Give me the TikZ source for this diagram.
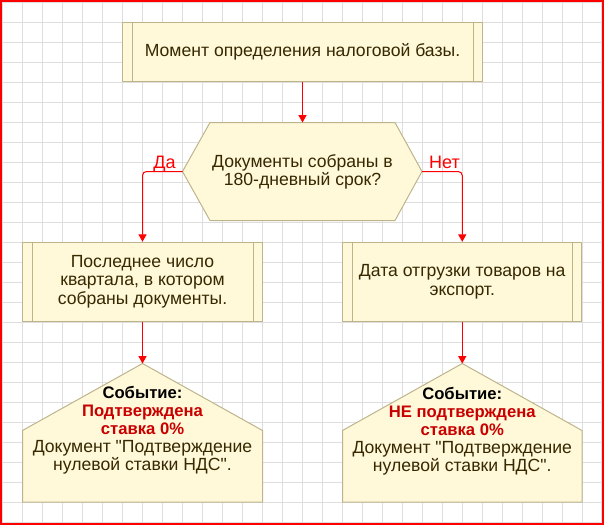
\documentclass[tikz,border=0pt]{standalone}
\usepackage{fontspec}
\setmainfont{Liberation Sans}
\newfontfamily\nomapfont{Liberation Sans}
\usetikzlibrary{arrows.meta}
\definecolor{boxfill}{RGB}{255,249,218}
\definecolor{boxline}{RGB}{190,180,140}
\definecolor{boxtext}{RGB}{55,40,0}
\definecolor{gridc}{RGB}{222,222,222}
\definecolor{evred}{RGB}{200,0,0}
\newcommand{\qq}{{\nomapfont\symbol{34}}}
\newcommand{\evbold}{\fontsize{12.5pt}{13.5pt}\selectfont\bfseries}
\tikzset{
  gridline/.style={draw=gridc, line width=0.75pt},
  shapeline/.style={draw=boxline, fill=boxfill, line width=0.75pt},
  procbox/.style={shapeline, rectangle, inner sep=0pt, text=boxtext, align=center,
    font=\fontsize{13.2pt}{13.7pt}\selectfont},
  txt/.style={text=boxtext, align=center, inner sep=0pt, font=\fontsize{13.2pt}{13.5pt}\selectfont},
  arr/.style={draw=red, line width=0.75pt, -{Triangle[length=5.5pt,width=6pt]}},
  flowlbl/.style={text=red, inner sep=0pt, font=\fontsize{13.5pt}{14pt}\selectfont},
}
\begin{document}
\begin{tikzpicture}[x=0.75pt,y=-0.75pt]
\useasboundingbox (0,0) rectangle (604,525);
% grid
\foreach \i in {1,...,29} \draw[gridline] (2.5+20*\i,2.5) -- (2.5+20*\i,522.5);
\foreach \j in {1,...,25} \draw[gridline] (2.5,2.5+20*\j) -- (601.5,2.5+20*\j);
\draw[gridline] (2.5,2.5) rectangle (601.5,522.5);
\draw[red, line width=1.75pt] (1.2,1.2) rectangle (602.8,523.8);

% box 1
\node[procbox, minimum width=270pt, minimum height=44.25pt] (b1) at (302.5,52)
  {Момент определения налоговой базы.};
\draw[boxline, line width=0.75pt] ([xshift=7.5pt]b1.north west) -- ([xshift=7.5pt]b1.south west);
\draw[boxline, line width=0.75pt] ([xshift=-7.5pt]b1.north east) -- ([xshift=-7.5pt]b1.south east);

% decision hexagon
\draw[shapeline] (182.5,171.5) -- (210,122.5) -- (395,122.5) -- (422,171.5) -- (395,220.5) -- (210,220.5) -- cycle;
\coordinate (qL) at (182.5,171.5);
\coordinate (qR) at (422,171.5);
\coordinate (qT) at (302.5,122.5);
\node[txt] (q) at (302.5,172) {Документы собраны в\\180-дневный срок?};

% box 2
\node[procbox, minimum width=180pt, minimum height=59.25pt] (b2) at (142.5,281.75)
  {Последнее число\\квартала, в котором\\собраны документы.};
\draw[boxline, line width=0.75pt] ([xshift=7.5pt]b2.north west) -- ([xshift=7.5pt]b2.south west);
\draw[boxline, line width=0.75pt] ([xshift=-7.5pt]b2.north east) -- ([xshift=-7.5pt]b2.south east);

% box 3
\node[procbox, minimum width=179.25pt, minimum height=59.25pt] (b3) at (462.25,281.75)
  {Дата отгрузки товаров на\\экспорт.};
\draw[boxline, line width=0.75pt] ([xshift=7.5pt]b3.north west) -- ([xshift=7.5pt]b3.south west);
\draw[boxline, line width=0.75pt] ([xshift=-7.5pt]b3.north east) -- ([xshift=-7.5pt]b3.south east);

% event 1
\draw[shapeline] (142.5,363.5) -- (262.5,430.5) -- (262.5,502) -- (22.5,502) -- (22.5,430.5) -- cycle;
\coordinate (e1T) at (142.5,363.5);
\node[txt] (e1) at (142.5,430.5)
  {{\evbold\textcolor{black}{Событие:}}\\{\evbold\textcolor{evred}{Подтверждена}}\\{\evbold\textcolor{evred}{ставка 0\%}}\\Документ \qq Подтверждение\\нулевой ставки НДС\qq.};

% event 2
\draw[shapeline] (462.25,363.5) -- (582,430.5) -- (582,502) -- (342.5,502) -- (342.5,430.5) -- cycle;
\coordinate (e2T) at (462.25,363.5);
\node[txt] (e2) at (462.25,431)
  {{\evbold\textcolor{black}{Событие:}}\\{\evbold\textcolor{evred}{НЕ подтверждена}}\\{\evbold\textcolor{evred}{ставка 0\%}}\\Документ \qq Подтверждение\\нулевой ставки НДС\qq.};

% connectors
\draw[arr] (b1.south) -- (qT);
\draw[arr, rounded corners=3pt] (qL) -| (b2.north);
\draw[arr, rounded corners=3pt] (qR) -| (b3.north);
\draw[arr] (b2.south) -- (e1T);
\draw[arr] (b3.south) -- (e2T);

\node[flowlbl, anchor=base] (lyes) at (164.5,168) {Да};
\node[flowlbl, anchor=base] (lno) at (444.5,168) {Нет};
\end{tikzpicture}
\end{document}
